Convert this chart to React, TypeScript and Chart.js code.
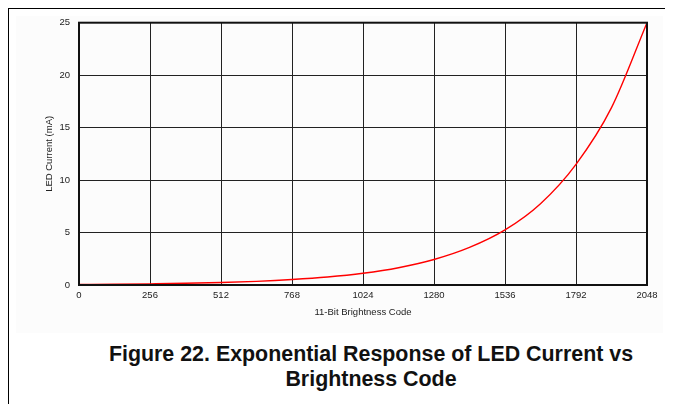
import React, { useEffect, useRef } from "react";
import { Chart, registerables } from "chart.js";

Chart.register(...registerables);

const codes = [0, 128, 256, 384, 512, 640, 768, 896, 1024, 1152, 1280, 1408, 1536, 1664, 1792, 1920, 2048];
const currents = [0.05, 0.07, 0.11, 0.16, 0.24, 0.35, 0.52, 0.76, 1.12, 1.65, 2.43, 3.58, 5.25, 7.75, 11.5, 16.9, 25];
const xTicks = [0, 256, 512, 768, 1024, 1280, 1536, 1792, 2048];
const yTicks = [0, 5, 10, 15, 20, 25];
const xTitle = "11-Bit Brightness Code";
const yTitle = "LED Current (mA)";
const captionLines = ["Figure 22. Exponential Response of LED Current vs", "Brightness Code"];

const FONT = "'Liberation Sans', Arial, sans-serif";

const frame = {
  id: "frame",
  afterDatasetsDraw(chart: any) {
    const { ctx, chartArea: a } = chart;
    ctx.save();
    ctx.strokeStyle = "#111";
    ctx.lineWidth = 2;
    ctx.strokeRect(a.left, a.top, a.right - a.left, a.bottom - a.top);
    ctx.restore();
  },
};

export default function App() {
  const ref = useRef<HTMLCanvasElement>(null);
  useEffect(() => {
    const c = new Chart(ref.current!, {
      type: "line",
      data: {
        datasets: [
          {
            data: codes.map((x, i) => ({ x, y: currents[i] })),
            borderColor: "#ff0000",
            borderWidth: 1.4,
            pointRadius: 0,
            cubicInterpolationMode: "monotone",
            fill: false,
          },
        ],
      },
      options: {
        animation: false,
        responsive: false,
        maintainAspectRatio: false,
        layout: { padding: { top: 0, right: 16, left: 0, bottom: 0 } },
        plugins: { legend: { display: false }, tooltip: { enabled: false } },
        scales: {
          x: {
            type: "linear",
            min: 0,
            max: 2048,
            afterBuildTicks: (s: any) => {
              s.ticks = xTicks.map((v) => ({ value: v }));
            },
            afterFit: (s: any) => {
              s.height = 47;
            },
            ticks: {
              color: "#222",
              font: { family: FONT, size: 9.5 },
              padding: 5,
              maxRotation: 0,
              callback: (v: any) => String(v),
            },
            grid: { color: "#222", lineWidth: 1, drawTicks: false },
            border: { color: "#111", width: 2 },
            title: {
              display: true,
              text: xTitle,
              color: "#222",
              font: { family: FONT, size: 9.5 },
              padding: { top: 0, bottom: 14 },
            },
          },
          y: {
            min: 0,
            max: 25,
            afterBuildTicks: (s: any) => {
              s.ticks = yTicks.map((v) => ({ value: v }));
            },
            afterFit: (s: any) => {
              s.width = 63;
            },
            ticks: { color: "#222", font: { family: FONT, size: 9.5 }, padding: 9, callback: (v: any) => String(v) },
            grid: { color: "#222", lineWidth: 1, drawTicks: false },
            border: { color: "#111", width: 2 },
            title: {
              display: true,
              text: yTitle,
              color: "#222",
              font: { family: FONT, size: 9.5 },
              padding: { top: 28, bottom: 0 },
            },
          },
        },
      },
      plugins: [frame],
    } as any);
    return () => c.destroy();
  }, []);

  return (
    <div style={{ position: "relative", width: 665, height: 396, borderTop: "1px solid #000", borderLeft: "1px solid #000", boxSizing: "border-box" }}>
      <div style={{ position: "absolute", left: 7, top: 7, width: 647, height: 317, background: "#fcfcfc" }} />
      <canvas
        ref={ref}
        width={647}
        height={324}
        style={{ position: "absolute", left: 7, top: -1, width: 647, height: 324 }}
      />
      <div
        style={{
          position: "absolute",
          left: 62,
          width: 600,
          top: 333,
          textAlign: "center",
          fontFamily: FONT,
          fontWeight: "bold",
          fontSize: 21.4,
          lineHeight: "25px",
          whiteSpace: "nowrap",
          color: "#111",
        }}
      >
        {captionLines[0]}
        <br />
        {captionLines[1]}
      </div>
    </div>
  );
}
